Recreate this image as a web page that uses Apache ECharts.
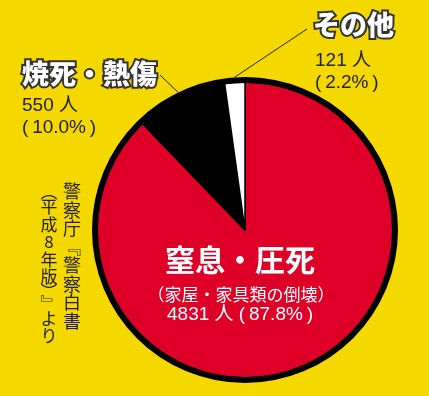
<!DOCTYPE html>
<html><head><meta charset="utf-8">
<script src="https://cdn.jsdelivr.net/npm/echarts@6/dist/echarts.min.js"></script>
<style>html,body{margin:0;padding:0;background:#F4D800;}#c{width:429px;height:396px;}</style>
</head><body><div id="c"></div>
<script>
// ---- data ----
const categories = ['窒息・圧死', '焼死・熱傷', 'その他'];
const deaths = [4831, 550, 121];
const shares = ['87.8%', '10.0%', '2.2%'];
const causeNote = '（家屋・家具類の倒壊）';
const sourceCols = ['警察庁『警察白書', '（平成8年版）』より'];

// ---- style ----
const colors = ['#DF0028', '#000000', '#FFFFFF'];
const CX = 245, CY = 230, R = 148, R_OUT = 153;
const jp = "'Noto Sans CJK JP'";
const num = "'Liberation Sans','Noto Sans CJK JP'";

const chart = echarts.init(document.getElementById('c'));
const total = deaths.reduce((a, b) => a + b, 0);
function midPoint(i, r) {
  let cum = 0;
  for (let k = 0; k < i; k++) cum += deaths[k];
  const f = (cum + deaths[i] / 2) / total;
  return [CX + r * Math.sin(2 * Math.PI * f), CY - r * Math.cos(2 * Math.PI * f)];
}

const headStyle = (text, x, y) => ({
  type: 'text', x: x, y: y, z: 10,
  style: {
    text: text, fill: '#fff', font: '900 27px ' + jp,
    stroke: '#333', lineWidth: 4,
    shadowColor: 'rgba(0,0,0,0.5)', shadowOffsetX: 2, shadowOffsetY: 2, shadowBlur: 1,
    textVerticalAlign: 'top'
  }
});
const countLabel = (i) => deaths[i] + ' 人\n(\u2009' + shares[i] + '\u2009)';
const bodyText = (text, x, y) => ({
  type: 'text', x: x, y: y, z: 10,
  style: { text: text, fill: '#222', font: '19px ' + num, lineHeight: 22, textVerticalAlign: 'top' }
});

const vmap = { '（': '︵', '）': '︶', '『': '﹃', '』': '﹄' };
function vertical(str, small) {
  return str.split('').map(ch => vmap[ch] ? (small ? '{b|' + vmap[ch] + '}' : '{a|' + vmap[ch] + '}') : '{a|' + ch + '}').join('\n');
}

const p1 = midPoint(1, R_OUT);
const p2 = midPoint(2, R_OUT);

chart.setOption({
  backgroundColor: '#F4D800',
  animation: false,
  series: [
    {
      type: 'pie', center: [CX, CY], radius: [0, R], startAngle: 90, clockwise: true,
      silent: true, label: { show: false }, labelLine: { show: false },
      itemStyle: { borderColor: '#000', borderWidth: 1.5 },
      data: categories.map((c, i) => ({ name: c, value: deaths[i], itemStyle: { color: colors[i] } }))
    },
    {
      type: 'pie', center: [CX, CY], radius: [R - 1, R_OUT], silent: true,
      label: { show: false }, labelLine: { show: false },
      itemStyle: { color: '#000' }, data: [{ value: total, name: 'ring' }]
    }
  ],
  graphic: [
    { type: 'line', shape: { x1: p1[0], y1: p1[1], x2: 160, y2: 75 }, style: { stroke: '#222', lineWidth: 1 } },
    { type: 'line', shape: { x1: p2[0], y1: p2[1], x2: 307, y2: 29 }, style: { stroke: '#222', lineWidth: 1 } },
    headStyle(categories[1], 22, 60),
    bodyText(countLabel(1), 22, 95),
    headStyle(categories[2], 313, 11),
    bodyText(countLabel(2), 315, 50),
    {
      type: 'text', x: 240, y: 260, z: 10,
      style: { text: categories[0], fill: '#fff', font: 'bold 30px ' + jp, textAlign: 'center', textVerticalAlign: 'middle' }
    },
    {
      type: 'text', x: 241, y: 295, z: 10,
      style: { text: causeNote, fill: '#fff', font: '17px ' + jp, textAlign: 'center', textVerticalAlign: 'middle' }
    },
    {
      type: 'text', x: 240, y: 315, z: 10,
      style: { text: deaths[0] + ' 人 (\u2009' + shares[0] + '\u2009)', fill: '#fff', font: '19px ' + num, textAlign: 'center', textVerticalAlign: 'middle' }
    },
    {
      type: 'text', x: 72, y: 182, z: 10,
      style: {
        text: vertical(sourceCols[0], false), textAlign: 'center', textVerticalAlign: 'top',
        rich: { a: { fill: '#222', font: '18px ' + jp, lineHeight: 18.5, align: 'center' },
                b: { fill: '#222', font: '18px ' + jp, lineHeight: 18.5, align: 'center' } }
      }
    },
    {
      type: 'text', x: 49, y: 186, z: 10,
      style: {
        text: vertical(sourceCols[1], true), textAlign: 'center', textVerticalAlign: 'top',
        rich: { a: { fill: '#222', font: '17px ' + jp, lineHeight: 17.5, align: 'center' },
                b: { fill: '#222', font: '17px ' + jp, lineHeight: 12, align: 'center' } }
      }
    }
  ]
});
</script></body></html>
